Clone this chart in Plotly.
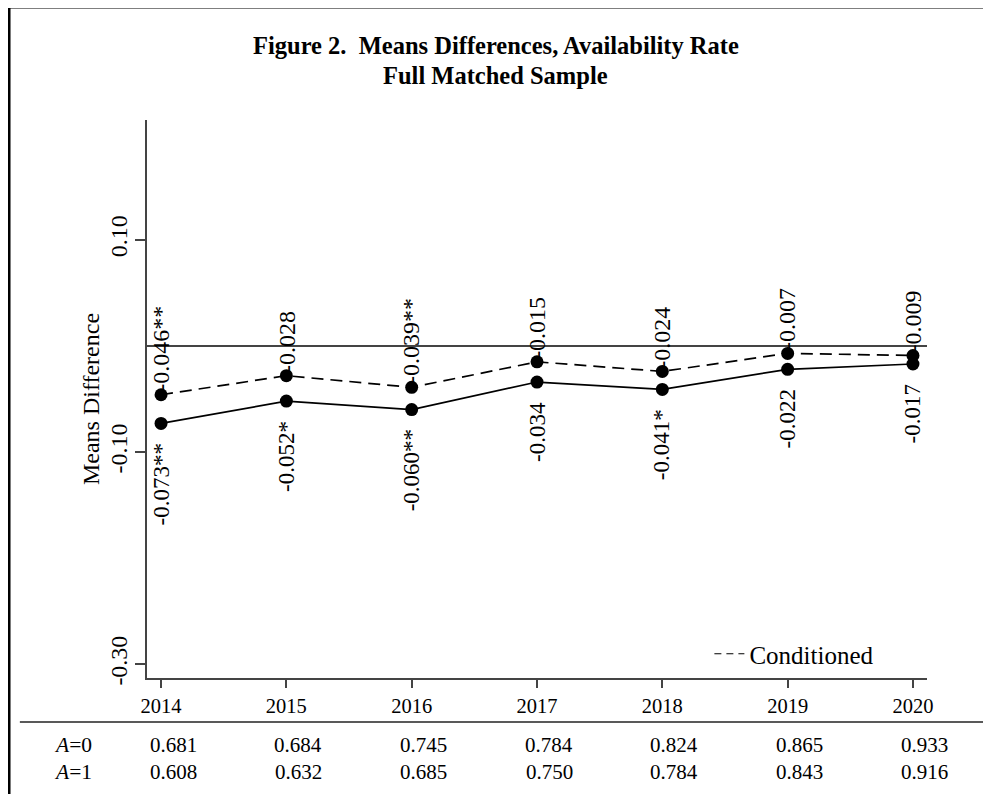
import plotly.graph_objects as go

years = [2014, 2015, 2016, 2017, 2018, 2019, 2020]
uncond = [-0.073, -0.052, -0.060, -0.034, -0.041, -0.022, -0.017]
cond = [-0.046, -0.028, -0.039, -0.015, -0.024, -0.007, -0.009]
uncond_labels = ["-0.073**", "-0.052*", "-0.060**", "-0.034", "-0.041*", "-0.022", "-0.017"]
cond_labels = ["-0.046**", "-0.028", "-0.039**", "-0.015", "-0.024", "-0.007", "-0.009"]
a0 = ["0.681", "0.684", "0.745", "0.784", "0.824", "0.865", "0.933"]
a1 = ["0.608", "0.632", "0.685", "0.750", "0.784", "0.843", "0.916"]
ytickvals = [0.10, -0.10, -0.30]
yticktext = ["0.10", "-0.10", "-0.30"]

SERIF = "Liberation Serif"

fig = go.Figure()
fig.add_trace(go.Scatter(x=years, y=uncond, mode="lines+markers",
                         line=dict(color="black", width=1.7),
                         marker=dict(color="black", size=13),
                         showlegend=False))
fig.add_trace(go.Scatter(x=years, y=cond, mode="lines+markers",
                         line=dict(color="black", width=1.7, dash="12px,7px"),
                         marker=dict(color="black", size=13),
                         showlegend=False))
# legend entry only
fig.add_trace(go.Scatter(x=[None], y=[None], mode="lines", name="Conditioned",
                         line=dict(color="black", width=1.2, dash="7px,5px"),
                         showlegend=True))

ann = []
for x, y, t in zip(years, cond, cond_labels):
    ann.append(dict(x=x, y=y, xref="x", yref="y", text=t, showarrow=False,
                    textangle=-90, xanchor="center", yanchor="bottom", yshift=1,
                    font=dict(family=SERIF, size=24, color="black")))
for x, y, t in zip(years, uncond, uncond_labels):
    ann.append(dict(x=x, y=y, xref="x", yref="y", text=t, showarrow=False,
                    textangle=-90, xanchor="center", yanchor="top", yshift=-18,
                    font=dict(family=SERIF, size=23, color="black")))

# title
ann.append(dict(x=0.447, y=1.1344, xref="paper", yref="paper", showarrow=False,
                text="<b>Figure 2.\u00a0 Means Differences, Availability Rate</b>",
                xanchor="center", yanchor="middle",
                font=dict(family=SERIF, size=24.5, color="black")))
ann.append(dict(x=0.447, y=1.0806, xref="paper", yref="paper", showarrow=False,
                text="<b>Full Matched Sample</b>",
                xanchor="center", yanchor="middle",
                font=dict(family=SERIF, size=24.5, color="black")))

# table rows
for x, t in zip(years, a0):
    ann.append(dict(x=x, y=-0.120, xref="x", yref="paper", text=t, showarrow=False,
                    xanchor="center", yanchor="middle", xshift=12,
                    font=dict(family=SERIF, size=21, color="black")))
for x, t in zip(years, a1):
    ann.append(dict(x=x, y=-0.168, xref="x", yref="paper", text=t, showarrow=False,
                    xanchor="center", yanchor="middle", xshift=12,
                    font=dict(family=SERIF, size=21, color="black")))
ann.append(dict(x=-0.068, y=-0.120, xref="paper", yref="paper", text="<i>A</i>=0",
                showarrow=False, xanchor="right", yanchor="middle",
                font=dict(family=SERIF, size=21.5, color="black")))
ann.append(dict(x=-0.068, y=-0.168, xref="paper", yref="paper", text="<i>A</i>=1",
                showarrow=False, xanchor="right", yanchor="middle",
                font=dict(family=SERIF, size=21.5, color="black")))

shapes = [
    # table rule
    dict(type="line", xref="paper", yref="paper", x0=-0.163, x1=1.09, y0=-0.0789, y1=-0.0789,
         line=dict(color="#222", width=1.5)),
    # frame border
    dict(type="rect", xref="paper", yref="paper", x0=-0.1769, x1=1.12, y0=-0.25, y1=1.2025,
         line=dict(color="black", width=3)),
]

# page body has an 8px margin, so the figure is sized to fit the 991x794 window
fig.update_layout(
    width=983, height=786,
    margin=dict(l=139, r=64, t=112, b=116),
    paper_bgcolor="white", plot_bgcolor="white",
    font=dict(family=SERIF, size=20, color="black"),
    showlegend=True,
    legend=dict(x=0.721, y=0.043, xanchor="left", yanchor="middle", bgcolor="rgba(0,0,0,0)",
                font=dict(family=SERIF, size=25, color="black"), itemwidth=30),
    annotations=ann,
    shapes=shapes,
)
fig.update_xaxes(range=[2013.888, 2020.112], tickvals=years, ticktext=[str(y) for y in years],
                 showline=True, linecolor="#444", linewidth=2, ticks="outside", ticklen=8,
                 tickcolor="#444", tickwidth=1.5, showgrid=False, zeroline=False,
                 tickfont=dict(family=SERIF, size=20.5, color="black"))
fig.update_yaxes(range=[-0.313, 0.213], tickvals=ytickvals, ticktext=yticktext, tickangle=-90,
                 showline=True, linecolor="#444", linewidth=2, ticks="outside", ticklen=10,
                 tickcolor="#444", tickwidth=1.5, showgrid=False,
                 zeroline=True, zerolinecolor="#444", zerolinewidth=1.5,
                 ticklabelstandoff=-2,
                 tickfont=dict(family=SERIF, size=24, color="black"),
                 title=dict(text="Means Difference", standoff=0,
                            font=dict(family=SERIF, size=24, color="black")))

fig.write_html("out.html")
